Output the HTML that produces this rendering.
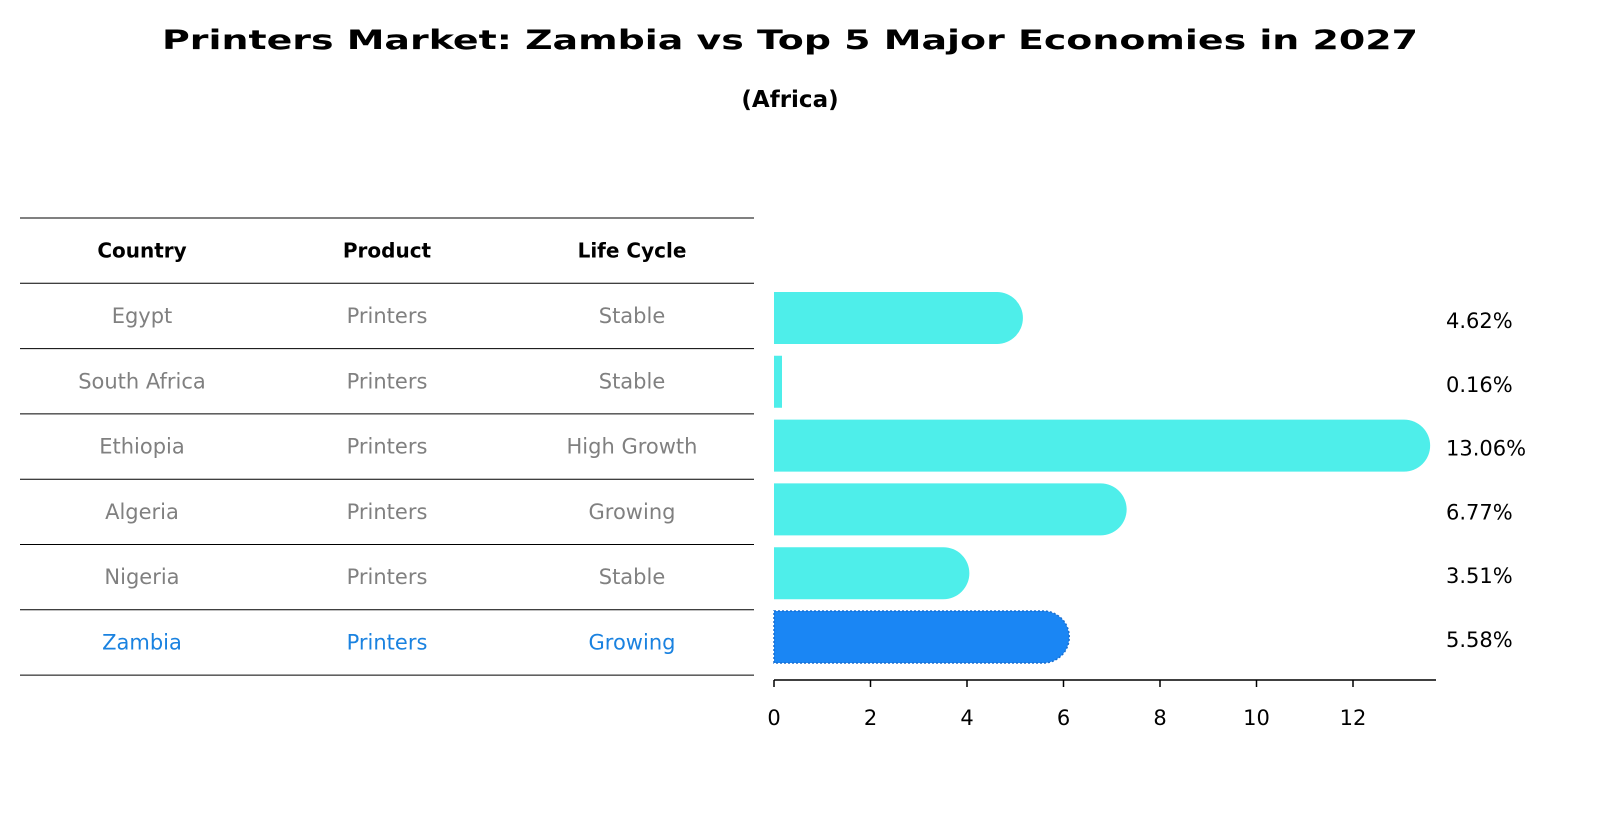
<!DOCTYPE html>
<html><head><meta charset="utf-8"><style>
body{margin:0;background:#fff;font-family:"DejaVu Sans","Liberation Sans",sans-serif;}
svg text{font-family:"DejaVu Sans","Liberation Sans",sans-serif;}
</style></head><body>
<svg width="1604" height="823" xmlns="http://www.w3.org/2000/svg">
<text x="790" y="49" text-anchor="middle" font-size="27" font-weight="bold" textLength="1256" lengthAdjust="spacingAndGlyphs">Printers Market: Zambia vs Top 5 Major Economies in 2027</text>
<text x="790" y="107" text-anchor="middle" font-size="23" font-weight="bold">(Africa)</text>
<g id="table"></g>
<g id="bars"></g>
</svg>
<script>
const countries=["Egypt","South Africa","Ethiopia","Algeria","Nigeria","Zambia"];
const products=["Printers","Printers","Printers","Printers","Printers","Printers"];
const lifeCycles=["Stable","Stable","High Growth","Growing","Stable","Growing"];
const values=[4.62,0.16,13.06,6.77,3.51,5.58];
const ticks=[0,2,4,6,8,10,12];
const NS="http://www.w3.org/2000/svg";
function mk(tag,attrs,parent){const e=document.createElementNS(NS,tag);for(const k in attrs)e.setAttribute(k,attrs[k]);parent.appendChild(e);return e;}
const tbl=document.getElementById('table');
const colX=[142,387,632];
const rowY0=218,rowH=65.3;
for(let i=0;i<=7;i++){const l=mk('line',{x1:20,x2:754,y1:rowY0+i*rowH,y2:rowY0+i*rowH,stroke:'#000','stroke-width':1},tbl);

}
["Country","Product","Life Cycle"].forEach((h,j)=>{const t=mk('text',{x:colX[j],y:rowY0+rowH/2+7,'text-anchor':'middle','font-size':20,'font-weight':'bold'},tbl);t.textContent=h;

});
countries.forEach((c,i)=>{const y=rowY0+(i+1)*rowH+rowH/2+7;const col=c==="Zambia"?"#1a82e0":"#808080";
[c,products[i],lifeCycles[i]].forEach((v,j)=>{const t=mk('text',{x:colX[j],y:y,'text-anchor':'middle','font-size':21,fill:col},tbl);t.textContent=v;

});});
const g=document.getElementById('bars');
const x0=774,ppu=48.25;const xs=v=>x0+v*ppu;
const cy0=318,step=63.8,bh=52,r=26;
values.forEach((v,i)=>{const cy=cy0+i*step;const w=xs(v)-x0;const z=countries[i]==="Zambia";const col=z?"#1a86f4":"#4eeeea";
let d;
if(w<=2*r){d=`M${x0},${cy-bh/2}h${Math.max(w,8)}v${bh}h${-Math.max(w,8)}z`;}
else{d=`M${x0},${cy-bh/2}H${xs(v)}A${r},${r} 0 0 1 ${xs(v)},${cy+bh/2}H${x0}Z`;}
const attrs={d:d,fill:col};
if(z){attrs.stroke='#1a6fd0';attrs['stroke-width']=1.5;attrs['stroke-dasharray']='2 2';}
const p=mk('path',attrs,g);


const t=mk('text',{x:1446,y:cy+10,'font-size':21},g);t.textContent=v.toFixed(2)+'%';

});
const ax=mk('line',{x1:x0,x2:1436,y1:680,y2:680,stroke:'#000','stroke-width':1.5},g);


ticks.forEach(tv=>{const tk=mk('line',{x1:xs(tv),x2:xs(tv),y1:680,y2:687,stroke:'#000','stroke-width':1.5},g);


const t=mk('text',{x:xs(tv),y:725,'text-anchor':'middle','font-size':21},g);t.textContent=tv;

});
</script>
</body></html>
